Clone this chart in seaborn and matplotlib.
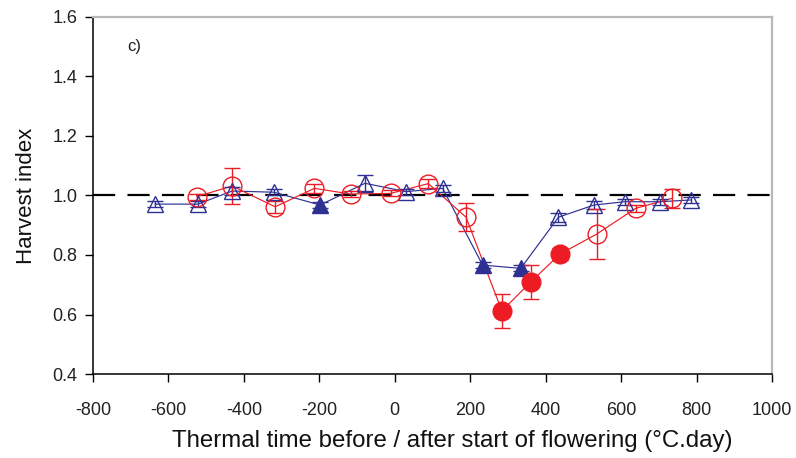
import numpy as np
import pandas as pd
import matplotlib
matplotlib.use("Agg")
import matplotlib.pyplot as plt
import seaborn as sns

# Genotype A (red circles): thermal time, harvest index, standard error, significance
red_x = [-525, -431, -317, -213, -117, -11, 89, 189, 284, 361, 438, 535, 639, 734]
red_y = [0.996, 1.032, 0.962, 1.024, 1.005, 1.007, 1.040, 0.927, 0.612, 0.710, 0.803, 0.870, 0.957, 0.990]
red_err = [0.010, 0.060, 0.020, 0.015, 0.010, 0.010, 0.015, 0.047, 0.056, 0.057, 0.020, 0.083, 0.012, 0.033]
red_sig = [False, False, False, False, False, False, False, False, True, True, True, False, False, False]

# Genotype B (blue triangles)
blue_x = [-636, -522, -431, -320, -198, -79, 30, 127, 233, 334, 434, 528, 610, 703, 785]
blue_y = [0.971, 0.971, 1.015, 1.011, 0.968, 1.041, 1.013, 1.024, 0.766, 0.755, 0.927, 0.968, 0.979, 0.979, 0.985]
blue_err = [0.010, 0.010, 0.012, 0.010, 0.010, 0.028, 0.010, 0.012, 0.010, 0.010, 0.015, 0.015, 0.010, 0.010, 0.010]
blue_sig = [False, False, False, False, True, False, False, False, True, True, False, False, False, False, False]

x_ticks = [-800, -600, -400, -200, 0, 200, 400, 600, 800, 1000]
y_ticks = [0.4, 0.6, 0.8, 1.0, 1.2, 1.4, 1.6]

RED = "#ED1C24"
BLUE = "#2E3192"

sns.set_theme(style="white")
plt.rcParams["font.family"] = ["Liberation Sans", "DejaVu Sans"]

fig = plt.figure(figsize=(7.96, 4.58), dpi=100)
ax = fig.add_axes([0.1168, 0.1834, 0.8530, 0.7795])

red = pd.DataFrame({"x": red_x, "y": red_y, "err": red_err, "sig": red_sig})
blue = pd.DataFrame({"x": blue_x, "y": blue_y, "err": blue_err, "sig": blue_sig})

# Reference line at harvest index of 1
ax.axhline(1.0, color="black", lw=1.6, dashes=(10, 5.5), zorder=1)

for df, color, marker, ms in [(blue, BLUE, "^", 12), (red, RED, "o", 13.5)]:
    sns.lineplot(data=df, x="x", y="y", ax=ax, color=color, lw=0.85,
                 estimator=None, sort=False, zorder=2)
    ax.errorbar(df["x"], df["y"], yerr=df["err"], fmt="none", ecolor=color,
                elinewidth=1.0, capsize=5.5, capthick=1.0, zorder=3)
    open_pts = df[~df["sig"]]
    filled_pts = df[df["sig"]]
    ax.plot(open_pts["x"], open_pts["y"], ls="none", marker=marker, ms=ms,
            mfc="none", mec=color, mew=1.0, zorder=4)
    ax.plot(filled_pts["x"], filled_pts["y"], ls="none", marker=marker, ms=ms,
            mfc=color, mec=color, mew=1.0, zorder=4)

ax.set_xlim(-800, 1000)
ax.set_ylim(0.4, 1.6)
ax.set_xticks(x_ticks)
ax.set_yticks(y_ticks)
ax.set_xticklabels([str(v) for v in x_ticks])
ax.set_yticklabels([f"{v:.1f}" for v in y_ticks])

ax.tick_params(axis="both", which="major", direction="out", length=6, width=1,
               color="black", labelsize=13, labelcolor="#222222", pad=5,
               bottom=True, left=True)
ax.tick_params(axis="x", pad=14)

for side in ["left", "bottom"]:
    ax.spines[side].set_color("black")
    ax.spines[side].set_linewidth(1.1)
for side in ["top", "right"]:
    ax.spines[side].set_color("#b8b8b8")
    ax.spines[side].set_linewidth(1.6)

ax.set_xlabel("Thermal time before / after start of flowering (°C.day)",
              fontsize=17.3, color="#111111")
ax.xaxis.set_label_coords(0.529, -0.158)
ax.set_ylabel("Harvest index", fontsize=16, color="#111111", labelpad=11)

ax.text(-710, 1.5, "c)", fontsize=12, color="#222222", va="center", ha="left")

fig.savefig("out.png", dpi=100)
